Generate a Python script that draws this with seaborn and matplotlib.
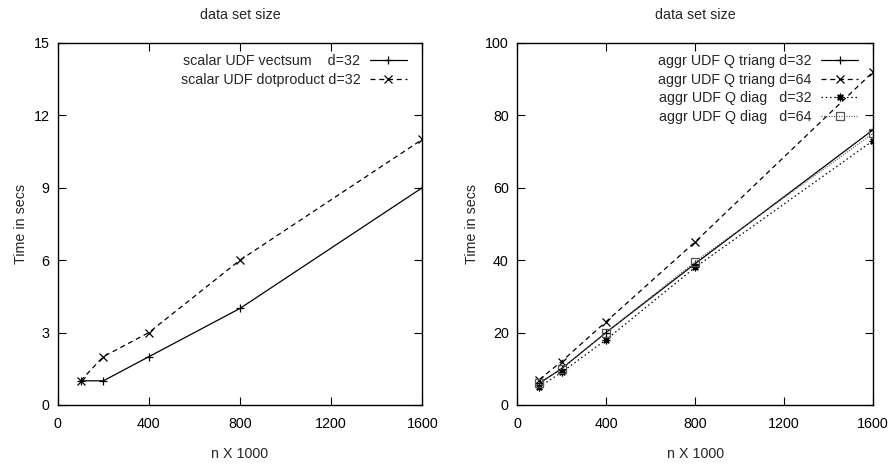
import numpy as np
import pandas as pd
import seaborn as sns
import matplotlib.pyplot as plt

# data
n_sizes = [100, 200, 400, 800, 1600]

vectsum_d32 = [1, 1, 2, 4, 9]
dotproduct_d32 = [1, 2, 3, 6, 11]

triang_d32 = [6, 10, 20, 39, 76]
triang_d64 = [7, 12, 23, 45, 92]
diag_d32 = [5, 9, 18, 38, 73]
diag_d64 = [6, 10, 20, 39.5, 75]

left_labels = ["scalar UDF vectsum    d=32", "scalar UDF dotproduct d=32"]
right_labels = ["aggr UDF Q triang d=32", "aggr UDF Q triang d=64",
                "aggr UDF Q diag   d=32", "aggr UDF Q diag   d=64"]

x_ticks = [0, 400, 800, 1200, 1600]
left_yticks = [0, 3, 6, 9, 12, 15]
right_yticks = [0, 20, 40, 60, 80, 100]

sns.set_theme(style="ticks")
plt.rcParams["font.family"] = ["Liberation Sans", "DejaVu Sans"]
fs = 10.3

# gnuplot-like line types
styles = [
    dict(color="black", linestyle="-", marker="+"),
    dict(color="black", linestyle=(0, (4, 3)), marker="x"),
    dict(color="black", linestyle=(0, (1.2, 2.2)), marker=(8, 2, 0)),
    dict(color="#555555", linestyle=(0, (0.8, 1.2)), marker="s", markerfacecolor="none"),
]

fig = plt.figure(figsize=(8.89, 4.66), dpi=100)
ax1 = fig.add_axes([0.065, 0.131, 0.41, 0.777])
ax2 = fig.add_axes([0.5816, 0.131, 0.4005, 0.777])


def draw(ax, series, labels, yticks):
    for vals, lab, st in zip(series, labels, styles):
        df = pd.DataFrame({"n": n_sizes, "t": vals})
        sns.lineplot(data=df, x="n", y="t", ax=ax, label=lab, linewidth=0.9,
                     markersize=5.5, markeredgewidth=0.9, markeredgecolor=st["color"], **st)
    ax.set_xlim(0, 1600)
    ax.set_ylim(yticks[0], yticks[-1])
    ax.set_xticks(x_ticks)
    ax.set_yticks(yticks)
    ax.tick_params(direction="in", length=6, width=0.8, top=True, right=True,
                   labelsize=fs, colors="black")
    ax.tick_params(axis="x", pad=9)
    ax.tick_params(axis="y", pad=6)
    for s in ax.spines.values():
        s.set_visible(True)
        s.set_linewidth(1.0)
        s.set_color("black")
    ax.set_title("data set size", fontsize=fs, pad=17)
    ax.set_xlabel("n X 1000", fontsize=fs, labelpad=11)
    ax.set_ylabel("Time in secs", fontsize=fs, labelpad=4)
    ax.legend(loc="upper right", bbox_to_anchor=(0.958, 0.97), frameon=False,
              markerfirst=False, fontsize=fs, handlelength=2.6, handletextpad=0.65,
              labelspacing=0.34, borderaxespad=0, borderpad=0)


draw(ax1, [vectsum_d32, dotproduct_d32], left_labels, left_yticks)
draw(ax2, [triang_d32, triang_d64, diag_d32, diag_d64], right_labels, right_yticks)

fig.savefig("out.png", dpi=100)
